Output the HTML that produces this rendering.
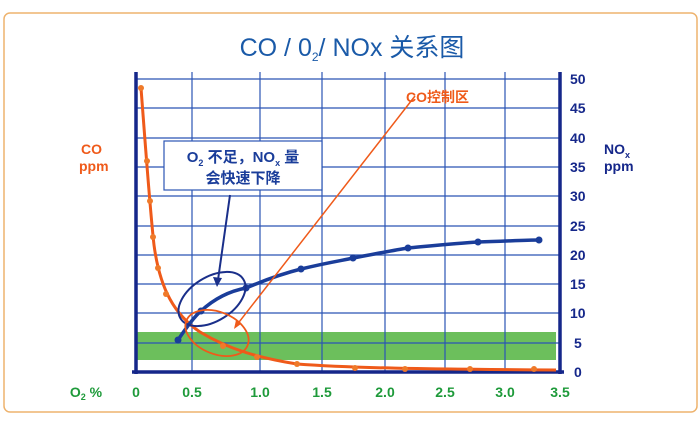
<!DOCTYPE html>
<html><head><meta charset="utf-8"><style>
html,body{margin:0;padding:0;background:#fff;width:700px;height:426px;overflow:hidden}
svg{display:block;font-family:"Liberation Sans","Noto Sans CJK SC",sans-serif}
</style></head><body>
<svg width="700" height="426" viewBox="0 0 700 426">
<rect x="4" y="13" width="693" height="399" rx="6" fill="none" stroke="#eeb36e" stroke-width="1.5"/>
<text x="352" y="56" text-anchor="middle" font-size="25" fill="#1a5aa8">CO / 0<tspan font-size="12" dy="5">2</tspan><tspan dy="-5">/ NOx 关系图</tspan></text>
<rect x="137" y="332" width="419" height="28" fill="#6cbf5c"/>
<g stroke="#2b55b5" stroke-width="1.2">
<line x1="136" y1="79" x2="560" y2="79"/><line x1="136" y1="108" x2="560" y2="108"/><line x1="136" y1="138" x2="560" y2="138"/><line x1="136" y1="167" x2="560" y2="167"/><line x1="136" y1="196" x2="560" y2="196"/><line x1="136" y1="226" x2="560" y2="226"/><line x1="136" y1="255" x2="560" y2="255"/><line x1="136" y1="284" x2="560" y2="284"/><line x1="136" y1="313" x2="560" y2="313"/><line x1="136" y1="343" x2="560" y2="343"/>
<line x1="192" y1="72" x2="192" y2="372"/><line x1="260" y1="72" x2="260" y2="372"/><line x1="322" y1="72" x2="322" y2="372"/><line x1="385" y1="72" x2="385" y2="372"/><line x1="445" y1="72" x2="445" y2="372"/><line x1="505" y1="72" x2="505" y2="372"/>
</g>
<g stroke="#15278a" stroke-width="3.5"><line x1="136" y1="72" x2="136" y2="374"/><line x1="560" y1="72" x2="560" y2="374"/><line x1="132" y1="372" x2="564" y2="372"/></g>
<g font-size="14" font-weight="bold" fill="#15278a">
<text x="570" y="84">50</text><text x="570" y="113">45</text><text x="570" y="143">40</text><text x="570" y="172">35</text><text x="570" y="201">30</text><text x="570" y="231">25</text><text x="570" y="260">20</text><text x="570" y="289">15</text><text x="570" y="318">10</text><text x="574" y="348">5</text><text x="574" y="377">0</text>
<text x="604" y="154">NO<tspan font-size="9" dy="4">x</tspan></text><text x="604" y="171">ppm</text>
</g>
<g font-size="14" font-weight="bold" fill="#ef5a1a"><text x="81" y="154">CO</text><text x="79" y="171">ppm</text><text x="406" y="102">CO控制区</text></g>
<g font-size="14" font-weight="bold" fill="#1e9a3a" text-anchor="middle">
<text x="136" y="397">0</text><text x="192" y="397">0.5</text><text x="260" y="397">1.0</text><text x="322" y="397">1.5</text><text x="385" y="397">2.0</text><text x="445" y="397">2.5</text><text x="505" y="397">3.0</text><text x="560" y="397">3.5</text><text x="86" y="397">O<tspan font-size="9" dy="3">2</tspan><tspan dy="-3"> %</tspan></text>
</g>
<path d="M141,88 C145,140 150,210 154,245 C160,290 175,315 200,332 C230,350 260,358 297,364 C350,368 420,369 556,370" fill="none" stroke="#ef5a1a" stroke-width="3"/>
<g fill="#ef7a2a"><circle cx="141" cy="88" r="3"/><circle cx="147" cy="161" r="3"/><circle cx="150" cy="201" r="3"/><circle cx="153" cy="237" r="3"/><circle cx="158" cy="268" r="3"/><circle cx="166" cy="294" r="3"/><circle cx="223" cy="346" r="3"/><circle cx="257" cy="357" r="3"/><circle cx="297" cy="364" r="3"/><circle cx="355" cy="368" r="3"/><circle cx="405" cy="369" r="3"/><circle cx="470" cy="369" r="3"/><circle cx="534" cy="369" r="3"/></g>
<path d="M178,340 C188,325 195,316 201,311 C215,298 230,291 246,288 C265,280 285,273 301,269 C330,262 345,260 353,258 C380,253 395,250 408,248 C440,245 460,243 478,242 C510,241 525,240 539,240" fill="none" stroke="#1a3d9a" stroke-width="3.5"/>
<g fill="#1a3d9a"><circle cx="178" cy="340" r="3.5"/><circle cx="201" cy="311" r="3.5"/><circle cx="246" cy="288" r="3.5"/><circle cx="301" cy="269" r="3.5"/><circle cx="353" cy="258" r="3.5"/><circle cx="408" cy="248" r="3.5"/><circle cx="478" cy="242" r="3.5"/><circle cx="539" cy="240" r="3.5"/></g>
<ellipse cx="212" cy="299" rx="37" ry="22" transform="rotate(-32 212 299)" fill="none" stroke="#1a2f8a" stroke-width="2"/>
<ellipse cx="217" cy="333" rx="33" ry="21" transform="rotate(22 217 333)" fill="none" stroke="#ef5a1a" stroke-width="1.8"/>
<line x1="415" y1="96" x2="236" y2="326" stroke="#ef5a1a" stroke-width="1.5"/>
<polygon points="234,329 236,320 241,324" fill="#ef5a1a"/>
<line x1="230" y1="195" x2="218" y2="280" stroke="#1a2f8a" stroke-width="2"/>
<polygon points="217,287 213,277 222,278" fill="#1a2f8a"/>
<rect x="164" y="141" width="158" height="49" fill="#fff" stroke="#2b55b5" stroke-width="1.2"/>
<g font-size="15" font-weight="bold" fill="#1a3d9a" text-anchor="middle">
<text x="243" y="162">O<tspan font-size="9" dy="4">2</tspan><tspan dy="-4"> 不足，NO</tspan><tspan font-size="9" dy="4">x</tspan><tspan dy="-4"> 量</tspan></text>
<text x="243" y="183">会快速下降</text></g>
</svg>
</body></html>
